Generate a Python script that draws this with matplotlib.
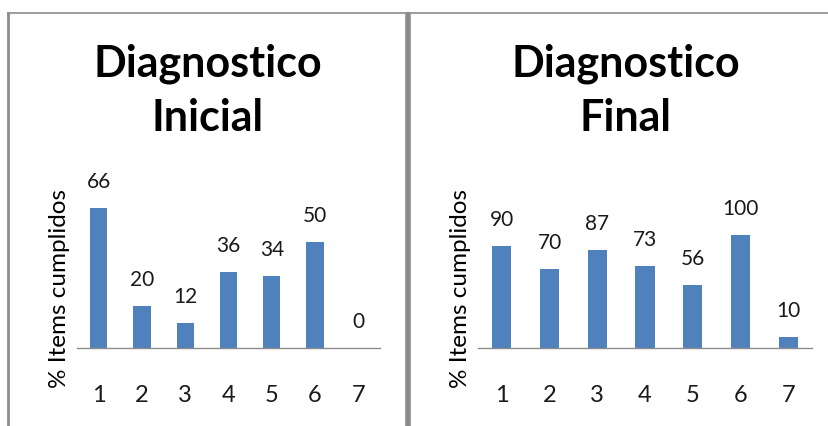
import matplotlib
matplotlib.use("Agg")
import matplotlib.pyplot as plt
from matplotlib.lines import Line2D

categories = ["1", "2", "3", "4", "5", "6", "7"]
inicial = [66, 20, 12, 36, 34, 50, 0]
final = [90, 70, 87, 73, 56, 100, 10]
title_inicial = ["Diagnostico", "Inicial"]
title_final = ["Diagnostico", "Final"]
ylabel = "% Items cumplidos"

W, H = 829, 426
fig = plt.figure(figsize=(W / 100, H / 100), dpi=100)
fig.patch.set_facecolor("white")
plt.rcParams["font.family"] = ["Lato", "DejaVu Sans"]

BAR = "#4F81BD"
GRID = "#8c8c8c"


def px(x, y):
    return x / W, 1 - y / H


def make_panel(vals, titles, x0, x1, ymax, title_cx, ylab_x):
    base = 348
    top = 160
    ax = fig.add_axes([x0 / W, 1 - base / H, (x1 - x0) / W, (base - top) / H])
    xs = list(range(len(categories)))
    bars = ax.bar(xs, vals, width=0.4, color=BAR)
    ax.set_xlim(-0.5, len(categories) - 0.5)
    ax.set_ylim(0, ymax)
    ax.set_xticks(xs)
    ax.set_xticklabels(categories, fontsize=17, color="#1a1a1a")
    ax.tick_params(axis="x", length=0, pad=27)
    ax.set_yticks([])
    for s in ["top", "right", "left"]:
        ax.spines[s].set_visible(False)
    ax.spines["bottom"].set_color("#8c8c8c")
    ax.spines["bottom"].set_linewidth(1.0)
    ax.patch.set_alpha(0)
    for b, v in zip(bars, vals):
        ax.annotate(str(v), (b.get_x() + b.get_width() / 2, v),
                    xytext=(0, 26), textcoords="offset pixels",
                    ha="center", va="center", fontsize=15,
                    color="#1a1a1a", annotation_clip=False)
    fig.text(*px(title_cx, 77), titles[0], ha="center", va="baseline",
             fontsize=31, fontweight="bold", color="black")
    fig.text(*px(title_cx, 131), titles[1], ha="center", va="baseline",
             fontsize=31, fontweight="bold", color="black")
    fig.text(*px(ylab_x, 288), ylabel, ha="center", va="center",
             rotation=90, fontsize=17.5, color="black")
    return ax


make_panel(inicial, title_inicial, 77, 380, 66 * 188 / 140, 208, 60)
make_panel(final, title_final, 478, 812, 100 * 188 / 113, 626, 461)

# panel borders
def fline(xa, ya, xb, yb, lw, color):
    x_a, y_a = px(xa, ya)
    x_b, y_b = px(xb, yb)
    fig.add_artist(Line2D([x_a, x_b], [y_a, y_b], transform=fig.transFigure,
                          lw=lw, color=color, solid_capstyle="butt"))

fline(7, 12.5, 829, 12.5, 1.2, GRID)
fline(8, 12, 8, 426, 2.0, GRID)
fline(408.5, 12, 408.5, 426, 4.0, GRID)

fig.savefig("out.png", dpi=100, facecolor="white")
